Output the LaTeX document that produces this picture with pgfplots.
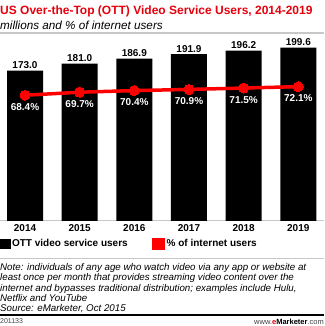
\documentclass[border=0pt]{standalone}
\usepackage{fontspec}
\setmainfont{Liberation Sans}
\usepackage{pgfplots}
\pgfplotsset{compat=1.18}
\definecolor{emred}{HTML}{E5000C}
\definecolor{linered}{HTML}{FF0000}
\definecolor{lgray}{HTML}{C8C8C8}
\begin{document}
\begin{tikzpicture}[x=1pt,y=1pt]
\path[use as bounding box] (0,0) rectangle (324,326);
\node[anchor=west, text=emred, font=\bfseries\fontsize{12}{14}\selectfont, inner sep=0] at (0,315) {US Over-the-Top (OTT) Video Service Users, 2014-2019};
\node[anchor=west, font=\itshape\fontsize{11.7}{13}\selectfont, inner sep=0] at (0,301) {millions and \% of internet users};
\draw[lgray, line width=2pt] (0,292.7) -- (324,292.7);

\begin{axis}[name=main, at={(0pt,105pt)}, anchor=south west, scale only axis, width=324pt, height=181pt,
  xmin=-0.4575, xmax=5.47, ymin=0, ymax=208.3, enlargelimits=false,
  axis y line=none, axis x line*=bottom, x axis line style={lgray, line width=1pt, -},
  xtick={0,1,2,3,4,5}, xticklabels={2014,2015,2016,2017,2018,2019},
  xtick style={draw=none}, ytick=\empty,
  xticklabel style={font=\bfseries\fontsize{10}{12}\selectfont},
  clip=false,
  /pgf/number format/assume math mode=true,
  nodes near coords,
  every node near coord/.append style={font=\bfseries\fontsize{10}{12}\selectfont, inner sep=1.5pt, /pgf/number format/.cd, fixed, precision=1, zerofill},
  ]
\addplot[ybar, bar width=36pt, fill=black, draw=none] coordinates {(0,173.0) (1,181.0) (2,186.9) (3,191.9) (4,196.2) (5,199.6)};
\end{axis}

\begin{axis}[at={(main.south west)}, anchor=south west, scale only axis, width=324pt, height=181pt,
  xmin=-0.4575, xmax=5.47, ymin=14.2, ymax=92.2, enlargelimits=false,
  axis lines=none, clip=false,
  /pgf/number format/assume math mode=true,
  nodes near coords={\pgfmathprintnumber[fixed,precision=1,zerofill]{\pgfplotspointmeta}\%},
  every node near coord/.append style={font=\bfseries\fontsize{10}{12}\selectfont, text=white, anchor=north, yshift=-5pt},
  legend columns=2, legend cell align=left,
  legend style={at={(0,-0.127)}, anchor=west, draw=none, fill=none, inner sep=0pt,
    font=\bfseries\fontsize{10}{12}\selectfont,
    /tikz/every even column/.append style={column sep=22pt}},
  ]
\addlegendimage{legend image code/.code={\fill[black] (0pt,-4.5pt) rectangle (9.5pt,4.5pt);}}
\addlegendentry{OTT video service users}
\addplot[linered, line width=3.5pt, mark=*, mark size=5pt, mark options={fill=linered, draw=linered, line width=0pt},
  legend image code/.code={\fill[linered] (0pt,-4.5pt) rectangle (9.5pt,4.5pt);}]
  coordinates {(0,68.4) (1,69.7) (2,70.4) (3,70.9) (4,71.5) (5,72.1)};
\addlegendentry{\% of internet users}
\end{axis}

\draw[lgray, line width=1pt] (0,67) -- (324,67);
\node[anchor=north west, align=left, inner sep=0, font=\itshape\fontsize{9.75}{10.2}\selectfont] at (0,62.5) {Note: individuals of any age who watch video via any app or website at\\least once per month that provides streaming video content over the\\internet and bypasses traditional distribution; examples include Hulu,\\Netflix and YouTube\\Source: eMarketer, Oct 2015};
\draw[black, line width=2pt] (0,11) -- (324,11);
\node[anchor=west, inner sep=0, font=\fontsize{7}{8}\selectfont, text=black!75] at (0,4.5) {201133};
\node[anchor=east, inner sep=0, font=\fontsize{7.5}{8}\selectfont, text=black!75] at (324,4.5) {www.\textcolor{emred}{\textbf{e}}\textbf{\textcolor{black}{Marketer}}.com};
\end{tikzpicture}
\end{document}
